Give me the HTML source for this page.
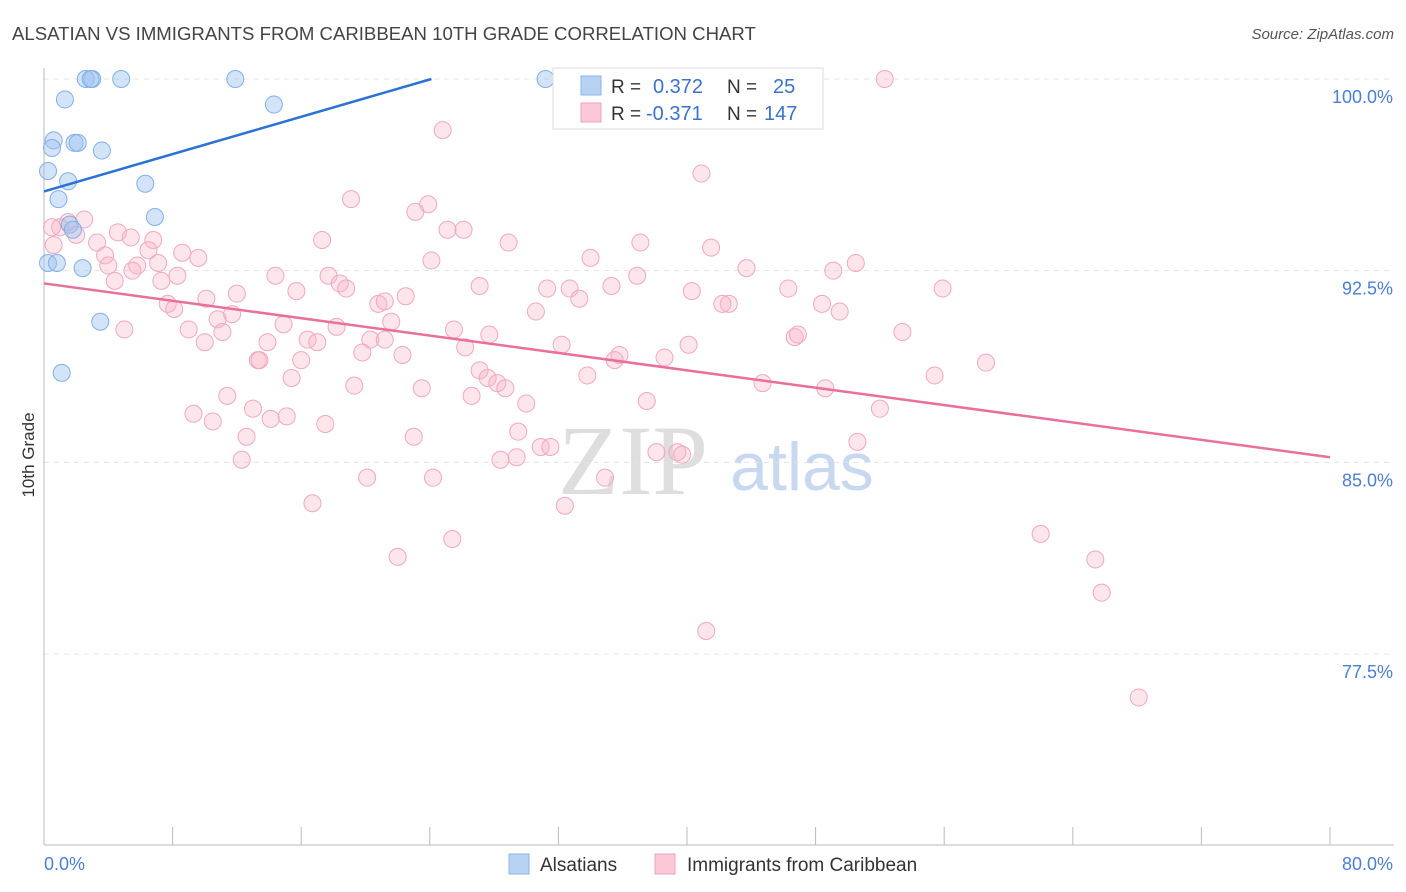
<!DOCTYPE html>
<html><head><meta charset="utf-8"><style>
body{margin:0;background:#fff;font-family:"Liberation Sans",sans-serif;}
#wrap{position:relative;width:1406px;height:892px;overflow:hidden;}
</style></head><body>
<div id="wrap">
<svg id="chart" width="1406" height="892" style="position:absolute;left:0;top:0">
<text x="12" y="40" font-size="18.6" fill="#444">ALSATIAN VS IMMIGRANTS FROM CARIBBEAN 10TH GRADE CORRELATION CHART</text>
<text x="1394" y="39" font-size="15" fill="#555" font-style="italic" text-anchor="end">Source: ZipAtlas.com</text>
<text x="34" y="455" font-size="17" fill="#333" text-anchor="middle" transform="rotate(-90 34 455)">10th Grade</text>
<text x="633" y="494" font-size="100" fill="#dedede" font-family="Liberation Serif,serif" text-anchor="middle">ZIP</text>
<text x="802" y="490" font-size="68" fill="#c8d8f0" text-anchor="middle">atlas</text>
<g id="grid"></g><g id="axes"></g><g id="pts"></g><g id="lines"></g>
<g>
<rect x="553" y="68" width="270" height="61" fill="#fff" stroke="#ddd"/>
<rect x="581" y="76" width="20" height="19" fill="#b8d2f4" stroke="#8ab4e8"/>
<rect x="581" y="103" width="20" height="19" fill="#fac8d6" stroke="#f0a0b8"/>
<text x="611" y="93" font-size="19" fill="#333">R = </text><text x="653" y="93" font-size="20" fill="#3a72d0">0.372</text>
<text x="727" y="93" font-size="19" fill="#333">N = </text><text x="773" y="93" font-size="20" fill="#3a72d0">25</text>
<text x="611" y="120" font-size="19" fill="#333">R = </text><text x="646" y="120" font-size="20" fill="#3a72d0">-0.371</text>
<text x="727" y="120" font-size="19" fill="#333">N = </text><text x="764" y="120" font-size="20" fill="#3a72d0">147</text>
</g>
<g>
<rect x="509" y="854" width="20" height="20" fill="#b8d2f4" stroke="#8ab4e8"/>
<text x="540" y="871" font-size="19" fill="#333">Alsatians</text>
<rect x="655" y="854" width="20" height="20" fill="#fac8d6" stroke="#f0a0b8"/>
<text x="687" y="871" font-size="19" fill="#333">Immigrants from Caribbean</text>
</g>
</svg>
</div>
<script>
const yTicks=[100,92.5,85,77.5];
const yTickLabels=["100.0%","92.5%","85.0%","77.5%"];
const xTickLabels=["0.0%","80.0%"];
const blueX=[2.6,3.0,2.9,4.8,11.9,31.2,1.3,14.3,0.6,0.5,1.9,2.1,3.6,0.25,1.5,6.3,0.9,6.9,1.6,1.8,0.25,0.8,2.4,3.5,1.1];
const blueY=[100,100,100,100,100,100,99.2,99.0,97.6,97.3,97.5,97.5,97.2,96.4,96.0,95.9,95.3,94.6,94.3,94.1,92.8,92.8,92.6,90.5,88.5];
const pinkX=[52.3,24.8,40.9,19.1,23.9,23.1,2.5,1.5,1.0,0.5,4.6,2.0,5.4,6.8,17.3,25.1,26.1,28.9,37.1,41.5,0.6,3.3,6.5,3.8,8.6,9.6,7.1,5.8,4.0,24.1,34.0,43.7,49.1,50.5,14.4,17.7,36.9,8.3,4.4,5.5,7.3,18.4,18.8,15.7,27.1,31.3,32.7,35.3,40.3,46.3,55.9,12.0,10.1,22.5,33.3,20.8,21.2,42.6,42.2,48.4,49.5,7.7,8.1,30.6,11.7,10.8,21.6,14.9,5.0,9.0,11.1,25.5,27.7,18.2,53.4,46.7,46.9,13.9,16.4,17.0,20.3,21.2,10.0,32.2,26.2,40.1,19.8,22.3,35.8,38.6,35.5,13.3,13.4,16.0,58.6,27.1,15.4,27.6,33.8,55.4,19.3,28.2,28.7,44.7,48.6,23.5,26.6,11.4,30.0,37.5,9.3,13.0,52.0,10.5,14.1,15.1,17.5,29.5,12.6,23.0,30.9,31.5,50.6,38.1,39.4,39.7,29.4,28.4,12.3,20.1,24.2,34.9,16.7,32.4,25.4,62.0,22.0,65.4,65.8,41.2,68.1];
const pinkY=[100,98.0,96.3,95.3,95.1,94.8,94.5,94.4,94.2,94.2,94.0,93.9,93.8,93.7,93.7,94.1,94.1,93.6,93.6,93.4,93.5,93.6,93.3,93.1,93.2,93.0,92.8,92.7,92.7,92.9,93.0,92.6,92.5,92.8,92.3,92.3,92.3,92.3,92.1,92.5,92.1,92.0,91.8,91.7,91.9,91.8,91.8,91.9,91.7,91.8,91.8,91.6,91.4,91.5,91.4,91.2,91.3,91.2,91.2,91.2,90.9,91.2,91.0,90.9,90.8,90.6,90.5,90.4,90.2,90.2,90.1,90.2,90.0,90.3,90.1,89.9,90.0,89.7,89.8,89.7,89.8,89.8,89.7,89.6,89.5,89.6,89.3,89.2,89.2,89.1,89.0,89.0,89.0,89.0,88.9,88.6,88.3,88.3,88.4,88.4,88.0,88.1,87.9,88.1,87.9,87.9,87.6,87.6,87.3,87.4,86.9,87.1,87.1,86.6,86.7,86.8,86.5,86.2,86.0,86.0,85.6,85.6,85.8,85.4,85.4,85.3,85.2,85.1,85.1,84.4,84.4,84.4,83.4,83.3,82.0,82.2,81.3,81.2,79.9,78.4,75.8];
const blueTrend=[0,95.6,24.1,100];
const pinkTrend=[0,92.0,80,85.2];
const NS="http://www.w3.org/2000/svg";
const X0=44,X1=1330,Y0=79,Y1=654;
function sx(v){return X0+(v/80)*(X1-X0);}
function sy(v){return Y0+(100-v)/22.5*(Y1-Y0);}
function mk(t,a,p){const e=document.createElementNS(NS,t);for(const k in a)e.setAttribute(k,a[k]);p.appendChild(e);return e;}
const grid=document.getElementById('grid');
yTicks.forEach((t,i)=>{
 const l=mk('line',{x1:44,x2:1394,y1:sy(t),y2:sy(t),stroke:'#e4e4e4','stroke-dasharray':'5,5'},grid);
 
 
 const tx=mk('text',{x:1393,y:sy(t)+24,'font-size':18,fill:'#4a7fd4','text-anchor':'end'},grid);
 tx.textContent=yTickLabels[i];
 
 
});
const axes=document.getElementById('axes');
let a=mk('line',{x1:44,x2:44,y1:68,y2:845,stroke:'#bbb'},axes);


a=mk('line',{x1:44,x2:1394,y1:845,y2:845,stroke:'#bbb'},axes);


for(let k=1;k<=10;k++){const x=sx(k*8);const t=mk('line',{x1:x,x2:x,y1:827,y2:845,stroke:'#bbb'},axes);
 
 }
let t0=mk('text',{x:44,y:870,'font-size':18,fill:'#4a7fd4'},axes);t0.textContent=xTickLabels[0];


let t1=mk('text',{x:1393,y:870,'font-size':18,fill:'#4a7fd4','text-anchor':'end'},axes);t1.textContent=xTickLabels[1];


const pts=document.getElementById('pts');
pinkX.forEach((x,i)=>{const c=mk('circle',{cx:sx(x),cy:sy(pinkY[i]),r:8.5,fill:'rgba(248,180,200,0.35)',stroke:'#f0a8bf','stroke-width':1},pts);
 
 });
blueX.forEach((x,i)=>{const c=mk('circle',{cx:sx(x),cy:sy(blueY[i]),r:8.5,fill:'rgba(160,196,240,0.45)',stroke:'#80b0e8','stroke-width':1},pts);
 
 });
const lines=document.getElementById('lines');
let bl=mk('line',{x1:sx(blueTrend[0]),y1:sy(blueTrend[1]),x2:sx(blueTrend[2]),y2:sy(blueTrend[3]),stroke:'#2a72d6','stroke-width':2.5},lines);


let pl=mk('line',{x1:sx(pinkTrend[0]),y1:sy(pinkTrend[1]),x2:sx(pinkTrend[2]),y2:sy(pinkTrend[3]),stroke:'#e8709a','stroke-width':2.5},lines);


</script>
</body></html>
